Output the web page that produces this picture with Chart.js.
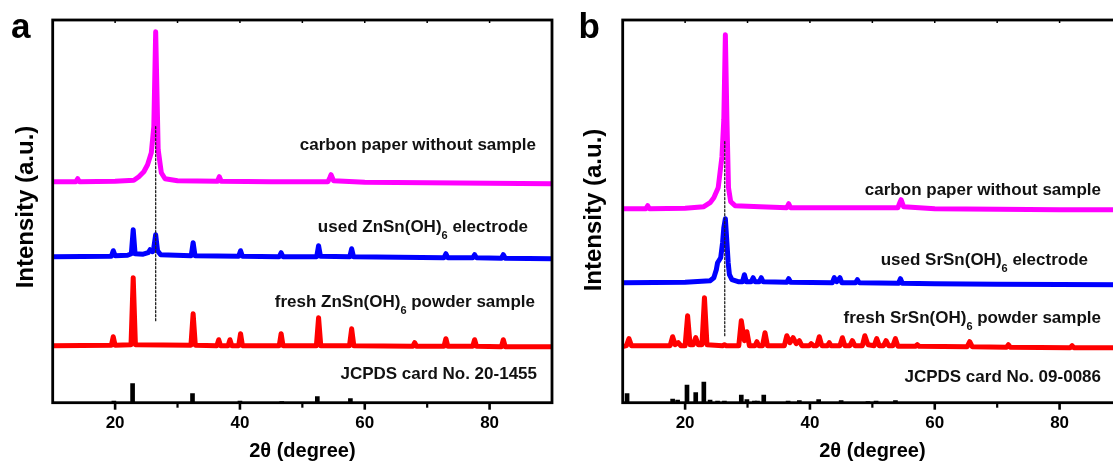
<!DOCTYPE html>
<html><head><meta charset="utf-8">
<script src="https://cdn.jsdelivr.net/npm/chart.js@4.4.0/dist/chart.umd.min.js"></script>
<style>
html,body{margin:0;padding:0;background:#fff;width:1113px;height:467px;overflow:hidden}
.panel{position:absolute;top:0;width:560px;height:467px}
.panel canvas{position:absolute;left:0;top:0}
.lbl{position:absolute;font-family:"Liberation Sans",Arial,sans-serif;font-weight:bold;font-size:17px;line-height:20px;color:#111;white-space:nowrap;text-align:right}
.sub{font-size:11px;position:relative;top:7px}
.tag{position:absolute;font-family:"Liberation Sans",Arial,sans-serif;font-weight:bold;font-size:35px;line-height:35px;top:8px;color:#000}
.ytitle{position:absolute;width:240px;margin-left:-120px;margin-top:-12px;text-align:center;font-family:"Liberation Sans",Arial,sans-serif;font-weight:bold;font-size:24px;line-height:24px;color:#000;transform:rotate(-90deg);white-space:nowrap}
</style></head>
<body>
<div class="panel" id="pa" style="left:0">
  <canvas id="ca" width="560" height="467"></canvas>
  <div class="tag" style="left:11px">a</div>
  <div class="ytitle" style="left:24.7px;top:206.5px">Intensity (a.u.)</div>
  <div class="lbl" style="right:24px;top:135px">carbon paper without sample</div>
  <div class="lbl" style="right:32px;top:216.5px">used ZnSn(OH)<span class="sub">6</span> electrode</div>
  <div class="lbl" style="right:25px;top:291.5px">fresh ZnSn(OH)<span class="sub">6</span> powder sample</div>
  <div class="lbl" style="right:23px;top:364px">JCPDS card No. 20-1455</div>
</div>
<div class="panel" id="pb" style="left:570px">
  <canvas id="cb" width="560" height="467"></canvas>
  <div class="tag" style="left:8.5px">b</div>
  <div class="ytitle" style="left:23px;top:210px">Intensity (a.u.)</div>
  <div class="lbl" style="right:29px;top:179.5px">carbon paper without sample</div>
  <div class="lbl" style="right:42px;top:250px">used SrSn(OH)<span class="sub">6</span> electrode</div>
  <div class="lbl" style="right:29px;top:308px">fresh SrSn(OH)<span class="sub">6</span> powder sample</div>
  <div class="lbl" style="right:29px;top:367px">JCPDS card No. 09-0086</div>
</div>
<script>
// ---- shared axis info ----
const xTickLabels = [20, 40, 60, 80];
const xMinorTicks = [30, 50, 70];
const X_MIN = 10, X_MAX = 90, Y_MAX = 382.7;

// ---- panel a: ZnSn(OH)6 ----  [2theta, intensity (a.u., offset included)]
const aCarbon = [[10,221],[13.7,221],[14.0,224],[14.3,221],[20,221.5],[23.0,222.5],[23.8,226],[24.6,231],[25.2,238],[25.8,250],[26.2,276],[26.5,371],[26.9,253],[27.4,230],[28.0,224],[30,222],[36.4,221.5],[36.7,226],[37.0,221.5],[45,221],[54.1,221],[54.4,225],[54.6,228],[55.0,222],[60,220.5],[70,220],[80,219.5],[90,219]];
const aUsed = [[10,146],[19.4,146.5],[19.7,152],[20.0,147],[22.0,147.5],[22.6,149],[22.9,173],[23.2,149],[24.5,148.5],[25.3,150],[25.6,153],[26.0,151],[26.2,155],[26.5,168],[26.8,152],[27.3,148],[32.2,147],[32.5,160],[32.8,147],[39.8,146.5],[40.1,152],[40.4,146.5],[46.3,146],[46.6,150],[46.9,146],[52.3,146],[52.6,157],[52.9,146.5],[57.6,146],[57.9,154],[58.2,146],[72.7,145],[73.0,149],[73.3,145],[77.3,145],[77.6,148],[77.9,145],[81.9,144.5],[82.2,148],[82.5,144.5],[90,144]];
const aFresh = [[10,57],[19.4,57.5],[19.7,66],[20.0,57.5],[22.55,58],[22.9,125],[23.25,58],[32.15,57.5],[32.5,89],[32.85,57.5],[36.3,57],[36.6,63],[36.9,57],[38.1,57],[38.4,63],[38.7,57],[39.8,57],[40.1,69],[40.4,57],[46.3,57],[46.6,69],[46.9,57],[52.25,57],[52.6,85],[52.95,57],[57.55,57],[57.9,74],[58.25,57],[67.7,56.5],[68.0,60],[68.3,56.5],[72.7,56.5],[73.0,64],[73.3,56.5],[77.3,56.5],[77.6,63],[77.9,56.5],[81.9,56],[82.2,63],[82.5,56],[90,56]];
const aCardPos = [19.8, 22.8, 32.4, 40.0, 46.7, 52.4, 57.7];
const aCardH   = [1.5, 19, 9, 1.5, 1, 6, 4];
const aMarkX = 26.5;
const aMarkY = [82, 276];

// ---- panel b: SrSn(OH)6 ----
const bCarbon = [[10,194],[13.7,194],[14.0,197],[14.3,194],[20,194.5],[23.0,196],[24.0,200],[24.6,205],[25.3,215],[25.9,246],[26.2,283],[26.45,368],[26.7,283],[26.95,215],[27.3,201],[28,197],[32,196],[36.3,195],[36.6,199],[36.9,195],[45,195],[54.1,195],[54.4,200],[54.6,203],[55.0,196],[60,194],[70,193.5],[80,193],[90,193]];
const bUsed = [[10,120],[20,120.5],[24.0,122],[24.6,125],[25.0,133],[25.2,140],[25.7,145],[26.0,160],[26.2,175],[26.45,184],[26.7,160],[26.9,140],[27.1,128],[27.5,123],[28.5,121],[29.2,121],[29.5,128],[29.8,121],[30.6,121],[30.9,125],[31.2,121],[31.9,121],[32.2,125],[32.5,121],[36.3,120.5],[36.6,124],[36.9,120.5],[43.6,120],[43.9,125],[44.3,121],[44.8,125],[45.1,120],[47.3,120],[47.6,123],[47.9,120],[54.2,119.5],[54.5,124],[54.8,119.5],[60,119],[70,118.5],[90,118]];
const bFresh = [[10,56],[10.6,57],[11.0,64],[11.4,57],[17.6,57],[18.0,66],[18.4,58],[18.9,60],[19.3,57],[20.0,57],[20.4,87],[20.8,58],[21.3,58],[21.7,65],[22.1,58],[22.7,58],[23.1,105],[23.5,58],[26.0,57],[26.3,58],[26.6,57],[28.6,57],[29.0,82],[29.5,62],[29.9,71],[30.3,57],[31.2,57],[31.5,61],[31.8,57],[32.4,57],[32.8,70],[33.2,57],[35.9,57],[36.3,67],[36.8,60],[37.3,65],[37.8,59],[38.3,62],[38.7,57],[39.9,57],[40.2,59],[40.6,57],[41.1,57],[41.5,66],[41.9,57],[42.8,57],[43.1,60],[43.4,57],[44.8,57],[45.2,65],[45.6,57],[46.4,57],[46.8,62],[47.2,57],[48.4,57],[48.8,67],[49.3,58],[50.3,57],[50.7,64],[51.1,57],[51.8,57],[52.2,62],[52.6,57],[53.3,57],[53.7,64],[54.1,56.5],[56.9,56.5],[57.2,58],[57.5,56.5],[65.2,56],[65.6,61],[66.0,56],[71.5,55.5],[71.8,58],[72.1,55.5],[81.7,55],[82.0,57],[82.3,55],[90,55]];
const bCardPos = [10.7, 18.0, 18.8, 20.3, 21.7, 23.0, 24.0, 25.2, 26.3, 29.0, 29.9, 31.1, 31.6, 32.6, 36.5, 38.3, 41.4, 45.0, 49.3, 50.6, 53.7];
const bCardH   = [9, 3.7, 2.7, 17.7, 10, 20.7, 2.5, 1.5, 1.5, 7.7, 3, 1.5, 1.5, 7.7, 1.5, 2, 3, 2, 1, 1.5, 2];
const bMarkX = 26.35;
const bMarkY = [67, 261];

const FONT = '"Liberation Sans", Arial, sans-serif';
Chart.defaults.font.family = FONT;

function pts(arr){ return arr.map(p => ({x:p[0], y:p[1]})); }

const framePlugin = {
  id:'frame',
  afterDraw(chart){
    const {ctx, chartArea:a} = chart;
    const x = chart.scales.x;
    ctx.save();
    ctx.strokeStyle = '#000';
    ctx.lineCap = 'butt';
    ctx.lineWidth = 1.5;
    for (let v = X_MIN + 10; v < X_MAX; v += 10){
      const px = x.getPixelForValue(v);
      ctx.beginPath(); ctx.moveTo(px, a.top); ctx.lineTo(px, a.top + 3); ctx.stroke();
    }
    ctx.lineWidth = 2.6;
    xTickLabels.forEach(v => {
      const px = x.getPixelForValue(v);
      ctx.beginPath(); ctx.moveTo(px, a.bottom); ctx.lineTo(px, a.bottom + 7); ctx.stroke();
    });
    ctx.lineWidth = 2.2;
    xMinorTicks.forEach(v => {
      const px = x.getPixelForValue(v);
      ctx.beginPath(); ctx.moveTo(px, a.bottom); ctx.lineTo(px, a.bottom + 5); ctx.stroke();
    });
    ctx.lineWidth = 2.8;
    ctx.strokeRect(a.left, a.top, a.right - a.left, a.bottom - a.top);
    ctx.restore();
  }
};

function build(id, carbon, used, fresh, cardPos, cardH, markX, markY){
  new Chart(document.getElementById(id), {
    type:'line',
    data:{datasets:[
      {type:'line', data:[{x:markX,y:markY[0]},{x:markX,y:markY[1]}], borderColor:'#222', borderWidth:1.3, borderDash:[2,2], pointRadius:0, order:0},
      {type:'line', data:pts(carbon), borderColor:'#ff00ff', borderWidth:5, pointRadius:0, order:1},
      {type:'line', data:pts(used), borderColor:'#0000ff', borderWidth:5, pointRadius:0, order:2},
      {type:'line', data:pts(fresh), borderColor:'#ff0000', borderWidth:5, pointRadius:0, order:3},
      {type:'bar', data:cardPos.map((p,i)=>({x:p, y:cardH[i]})), backgroundColor:'#000', barThickness:4, order:4}
    ]},
    options:{
      responsive:false, animation:false, devicePixelRatio:1,
      layout:{padding:{left:0, top:20, right:8, bottom:0}},
      plugins:{legend:{display:false}, tooltip:{enabled:false}},
      elements:{line:{tension:0, borderJoinStyle:'round', borderCapStyle:'round'}, point:{radius:0}},
      scales:{
        x:{type:'linear', min:X_MIN, max:X_MAX, offset:false,
           afterFit(s){ s.height = 64.3; },
           ticks:{stepSize:10, autoSkip:false, maxRotation:0, padding:4, color:'#000',
                  font:{family:FONT, size:17, weight:'bold'},
                  callback:v => xTickLabels.includes(v) ? String(v) : ''},
           grid:{display:true, offset:false, drawOnChartArea:false, drawTicks:true, tickLength:6, tickWidth:1, tickColor:'rgba(0,0,0,0)'},
           border:{display:false},
           title:{display:true, text:'2θ (degree)', color:'#000', font:{family:FONT, size:20, weight:'bold'}, padding:{top:0, bottom:4}}
        },
        y:{type:'linear', min:0, max:Y_MAX,
           afterFit(s){ s.width = 52.7; },
           ticks:{display:false}, grid:{display:false}, border:{display:false}, title:{display:false}}
      }
    },
    plugins:[framePlugin]
  });
}

build('ca', aCarbon, aUsed, aFresh, aCardPos, aCardH, aMarkX, aMarkY);
build('cb', bCarbon, bUsed, bFresh, bCardPos, bCardH, bMarkX, bMarkY);
</script>
</body></html>
